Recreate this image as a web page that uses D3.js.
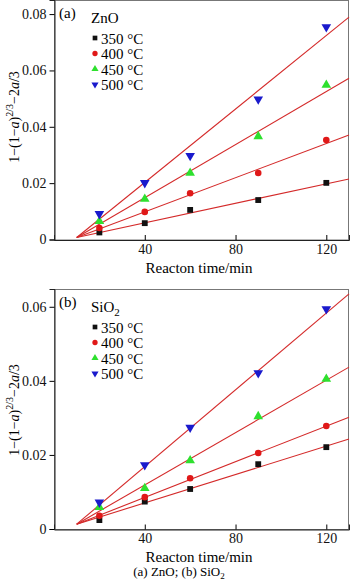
<!DOCTYPE html>
<html>
<head>
<meta charset="utf-8">
<script src="https://cdn.jsdelivr.net/npm/d3@7"></script>
<style>
  body { margin: 0; background: #fff; }
  text { font-family: "Liberation Serif", "DejaVu Serif", serif; }
</style>
</head>
<body>
<div id="plot"></div>
<script>
const w = 350;
const h = 584;

// reaction time (min)
const times = [20, 40, 60, 90, 120];
const temps = ["350 °C", "400 °C", "450 °C", "500 °C"];
const colors = ["#111111", "#e01818", "#2ee02e", "#1a1acc"];

// panel (a) ZnO
const znO350 = [0.0025, 0.0058, 0.0105, 0.0140, 0.0201];
const znO400 = [0.0041, 0.0098, 0.0164, 0.0236, 0.0353];
const znO450 = [0.0065, 0.0144, 0.0236, 0.0366, 0.0548];
const znO500 = [0.0091, 0.0201, 0.0297, 0.0498, 0.0754];
const znOFitStart = [0.0007, 0.0007, 0.0007, 0.0007];   // at t = 10
const znOFitEnd = [0.0215, 0.0371, 0.0572, 0.0789];     // at t = 130

// panel (b) SiO2
const siO350 = [0.0024, 0.0074, 0.0108, 0.0175, 0.0221];
const siO400 = [0.0036, 0.0086, 0.0137, 0.0205, 0.0278];
const siO450 = [0.0059, 0.0110, 0.0185, 0.0304, 0.0405];
const siO500 = [0.0072, 0.0173, 0.0274, 0.0421, 0.0594];
const siOFitStart = [0.0013, 0.0013, 0.0013, 0.0013];
const siOFitEnd = [0.0243, 0.0302, 0.0437, 0.0635];

const fitT = [10, 130];
const xTicks = [40, 80, 120];
const yTicksA = [0, 0.02, 0.04, 0.06, 0.08];
const yTicksB = [0, 0.02, 0.04, 0.06];

const svg = d3.select("div#plot")
    .append("svg")
    .attr("width", w)
    .attr("height", h);

const symbols = [
  d3.symbol().type(d3.symbolSquare).size(34),
  d3.symbol().type(d3.symbolCircle).size(34),
  d3.symbol().type(d3.symbolTriangle).size(40),
  d3.symbol().type(d3.symbolTriangle).size(40)
];
const rot = [0, 0, 0, 180];

function panel(cfg) {
  const g = svg.append("g");
  const x = d3.scaleLinear().domain([0, 130]).range([54, 349]);
  const y = d3.scaleLinear().domain([0, cfg.ymax]).range([cfg.bottom, cfg.top]);

  // frame
  g.append("rect")
      .attr("x", 54.5).attr("y", cfg.top + 0.5)
      .attr("width", 294).attr("height", cfg.bottom - cfg.top)
      .attr("fill", "none")
      .attr("stroke", "#777");

  const yAxis = d3.axisLeft(y).tickValues(cfg.yTicks).tickSize(5).tickPadding(3)
      .tickFormat(d => d === 0 ? "0" : d3.format(".2f")(d));
  const ya = g.append("g")
      .attr("transform", `translate(54.5,0)`)
      .call(yAxis);
  ya.select(".domain").attr("stroke", "#222");
  ya.selectAll("text").attr("font-size", 14).attr("fill", "#111");

  const xAxis = d3.axisBottom(x).tickValues(xTicks).tickSize(-5).tickPadding(4);
  const xa = g.append("g")
      .attr("transform", `translate(0,${cfg.bottom + 0.5})`)
      .call(xAxis);
  xa.select(".domain").attr("stroke", "#222");
  xa.selectAll("text").attr("font-size", 14).attr("fill", "#111");

  g.append("text")
      .attr("x", 199).attr("y", cfg.bottom + 33)
      .attr("text-anchor", "middle")
      .attr("font-size", 15)
      .text("Reacton time/min");

  // y label
  const yl = g.append("text")
      .attr("transform", `translate(19,${cfg.ylabelY}) rotate(-90)`)
      .attr("text-anchor", "middle")
      .attr("font-size", 14);
  yl.append("tspan").text("1−(1−");
  yl.append("tspan").attr("font-style", "italic").text("a");
  yl.append("tspan").text(")");
  yl.append("tspan").attr("font-size", 10).attr("dy", -6).text("2/3");
  yl.append("tspan").attr("dy", 6).text("−2");
  yl.append("tspan").attr("font-style", "italic").text("a");
  yl.append("tspan").text("/3");

  // fit lines
  const line = d3.line().x(d => x(d[0])).y(d => y(d[1]));
  cfg.fitStart.forEach((s, i) => {
    g.append("path")
        .datum([[fitT[0], s], [fitT[1], cfg.fitEnd[i]]])
        .attr("d", line)
        .attr("fill", "none")
        .attr("stroke", "#d42a2a")
        .attr("stroke-width", 1.1);
  });

  // markers
  cfg.series.forEach((vals, i) => {
    g.selectAll(null)
        .data(vals)
        .enter().append("path")
        .attr("d", symbols[i])
        .attr("transform", (d, j) => `translate(${x(times[j])},${y(d)}) rotate(${rot[i]})`)
        .attr("fill", colors[i]);
  });

  // panel tag + legend
  g.append("text").attr("x", 59).attr("y", cfg.top + 18).attr("font-size", 15).text(cfg.tag);
  const nm = g.append("text").attr("x", 91).attr("y", cfg.top + 23).attr("font-size", 15);
  nm.append("tspan").text(cfg.name);
  if (cfg.sub) nm.append("tspan").attr("font-size", 11).attr("dy", 4).text(cfg.sub);

  temps.forEach((t, i) => {
    const ly = cfg.top + 39 + i * 15.5;
    g.append("path")
        .attr("d", d3.symbol().type(i === 1 ? d3.symbolCircle : i === 0 ? d3.symbolSquare : d3.symbolTriangle).size(22))
        .attr("transform", `translate(95,${ly - 1}) rotate(${rot[i]})`)
        .attr("fill", colors[i]);
    g.append("text").attr("x", 101).attr("y", ly + 4.5).attr("font-size", 15).text(t);
  });
}

panel({
  top: 0, bottom: 239.5, ymax: 0.085, yTicks: yTicksA, ylabelY: 117,
  series: [znO350, znO400, znO450, znO500],
  fitStart: znOFitStart, fitEnd: znOFitEnd,
  tag: "(a)", name: "ZnO", sub: null
});

panel({
  top: 289, bottom: 529, ymax: 0.0648, yTicks: yTicksB, ylabelY: 410,
  series: [siO350, siO400, siO450, siO500],
  fitStart: siOFitStart, fitEnd: siOFitEnd,
  tag: "(b)", name: "SiO", sub: "2"
});

const cap = svg.append("text")
    .attr("x", 179).attr("y", 576)
    .attr("text-anchor", "middle")
    .attr("font-size", 13);
cap.append("tspan").text("(a) ZnO; (b) SiO");
cap.append("tspan").attr("font-size", 9).attr("dy", 3).text("2");
</script>
</body>
</html>
